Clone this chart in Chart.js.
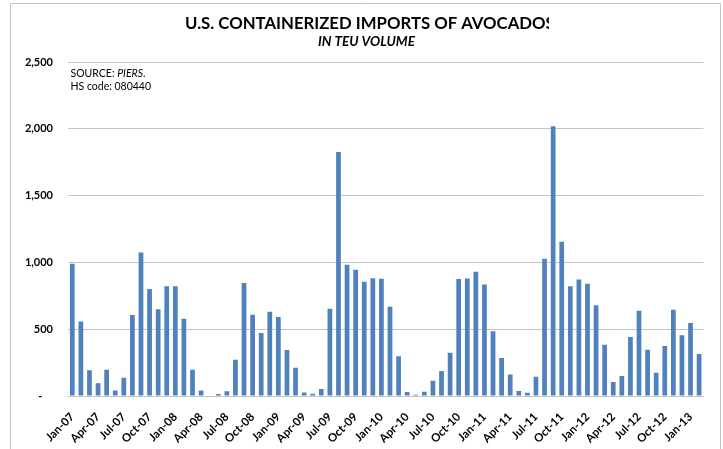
<!DOCTYPE html>
<html>
<head>
<meta charset="utf-8">
<script src="https://cdn.jsdelivr.net/npm/chart.js@4.4.1/dist/chart.umd.min.js"></script>
<style>
  html, body { margin: 0; padding: 0; background: #fff; }
</style>
</head>
<body>
<canvas id="avocado-chart" width="723" height="449"></canvas>
<script>
// Monthly categories, Jan-07 through Feb-13
const months = [
    'Jan-07', 'Feb-07', 'Mar-07', 'Apr-07', 'May-07', 'Jun-07', 'Jul-07', 'Aug-07', 'Sep-07', 'Oct-07', 'Nov-07', 'Dec-07',
    'Jan-08', 'Feb-08', 'Mar-08', 'Apr-08', 'May-08', 'Jun-08', 'Jul-08', 'Aug-08', 'Sep-08', 'Oct-08', 'Nov-08', 'Dec-08',
    'Jan-09', 'Feb-09', 'Mar-09', 'Apr-09', 'May-09', 'Jun-09', 'Jul-09', 'Aug-09', 'Sep-09', 'Oct-09', 'Nov-09', 'Dec-09',
    'Jan-10', 'Feb-10', 'Mar-10', 'Apr-10', 'May-10', 'Jun-10', 'Jul-10', 'Aug-10', 'Sep-10', 'Oct-10', 'Nov-10', 'Dec-10',
    'Jan-11', 'Feb-11', 'Mar-11', 'Apr-11', 'May-11', 'Jun-11', 'Jul-11', 'Aug-11', 'Sep-11', 'Oct-11', 'Nov-11', 'Dec-11',
    'Jan-12', 'Feb-12', 'Mar-12', 'Apr-12', 'May-12', 'Jun-12', 'Jul-12', 'Aug-12', 'Sep-12', 'Oct-12', 'Nov-12', 'Dec-12',
    'Jan-13', 'Feb-13'
];

// TEU volume per month
const teu2007 = [990, 558, 192, 95, 197, 42, 137, 606, 1074, 800, 650, 822];
const teu2008 = [822, 578, 197, 42, 0, 15, 35, 272, 845, 608, 471, 631];
const teu2009 = [591, 344, 212, 27, 17, 52, 653, 1827, 982, 945, 855, 882];
const teu2010 = [877, 668, 297, 30, 10, 32, 115, 187, 324, 875, 880, 930];
const teu2011 = [835, 484, 284, 160, 37, 25, 145, 1027, 2019, 1154, 822, 872];
const teu2012 = [840, 680, 384, 105, 150, 441, 638, 346, 174, 374, 646, 454];
const teu2013 = [546, 314];

// Axis labels
const xTickLabels = [
    'Jan-07', 'Apr-07', 'Jul-07', 'Oct-07', 'Jan-08', 'Apr-08', 'Jul-08', 'Oct-08',
    'Jan-09', 'Apr-09', 'Jul-09', 'Oct-09', 'Jan-10', 'Apr-10', 'Jul-10', 'Oct-10',
    'Jan-11', 'Apr-11', 'Jul-11', 'Oct-11', 'Jan-12', 'Apr-12', 'Jul-12', 'Oct-12', 'Jan-13'
];
const yTickValues = [0, 500, 1000, 1500, 2000, 2500];
const yTickLabels = ['-    ', '500', '1,000', '1,500', '2,000', '2,500'];

const titleText = 'U.S. CONTAINERIZED IMPORTS OF AVOCADOS';
const subtitleText = 'IN TEU VOLUME';

const teuVolume = [].concat(teu2007, teu2008, teu2009, teu2010, teu2011, teu2012, teu2013);

// Pick a font size so the text spans a given width
function fitFontSize(ctx, text, style, targetWidth) {
    ctx.font = style + ' 20px Lato';
    return 20 * targetWidth / ctx.measureText(text).width;
}

// Frame, title block and source note
const decorations = {
    id: 'decorations',
    beforeDraw(chart) {
        const ctx = chart.ctx;
        ctx.save();
        ctx.fillStyle = '#ffffff';
        ctx.fillRect(0, 0, chart.width, chart.height);
        ctx.strokeStyle = '#c4c4c4';
        ctx.lineWidth = 1;
        ctx.beginPath();
        ctx.moveTo(10.5, 449);
        ctx.lineTo(10.5, 3.5);
        ctx.lineTo(720.5, 3.5);
        ctx.lineTo(720.5, 449);
        ctx.stroke();
        ctx.restore();
    },
    afterDraw(chart) {
        const ctx = chart.ctx;
        const area = chart.chartArea;
        ctx.save();
        ctx.fillStyle = '#000000';
        ctx.textBaseline = 'alphabetic';
        ctx.textAlign = 'left';

        // Title is cut off on the right in the original
        const titleSize = fitFontSize(ctx, titleText, 'bold', 370);
        ctx.save();
        ctx.beginPath();
        ctx.rect(0, 0, 549, 40);
        ctx.clip();
        ctx.font = 'bold ' + titleSize + 'px Lato';
        ctx.fillText(titleText, 185, 28.5);
        ctx.restore();

        const subSize = fitFontSize(ctx, subtitleText, 'italic bold', 97);
        ctx.font = 'italic bold ' + subSize + 'px Lato';
        ctx.fillText(subtitleText, 318, 45.7);

        // Source note inside the plot area
        ctx.font = '10.5px Lato';
        const x0 = area.left + 2.5;
        ctx.fillText('SOURCE: ', x0, 77.3);
        let w = ctx.measureText('SOURCE: ').width;
        ctx.font = 'italic 10.5px Lato';
        ctx.fillText('PIERS', x0 + w, 77.3);
        w += ctx.measureText('PIERS').width;
        ctx.font = '10.5px Lato';
        ctx.fillText('.', x0 + w, 77.3);
        ctx.fillText('HS code: 080440', x0, 89.7);
        ctx.restore();
    }
};

function init() {
    const ctx = document.getElementById('avocado-chart').getContext('2d');
    window.avocadoChart = new Chart(ctx, {
        type: 'bar',
        data: {
            labels: months,
            datasets: [{
                label: 'TEU',
                data: teuVolume,
                backgroundColor: '#4f81bd',
                borderWidth: 0,
                categoryPercentage: 1.0,
                barPercentage: 0.55
            }]
        },
        options: {
            responsive: false,
            animation: false,
            devicePixelRatio: 1,
            layout: {
                padding: { top: 62, right: 19, left: 0, bottom: 0 }
            },
            plugins: {
                legend: { display: false },
                tooltip: { enabled: false },
                title: { display: false }
            },
            scales: {
                x: {
                    grid: { display: false, drawTicks: false },
                    border: { display: true, color: '#c4c4c4', width: 1 },
                    ticks: {
                        autoSkip: false,
                        maxRotation: 45,
                        minRotation: 45,
                        padding: 14,
                        color: '#000000',
                        font: { family: 'Lato', weight: 'bold', size: 11.5 },
                        callback: function(value, index) {
                            return xTickLabels.includes(months[index]) ? months[index] : '';
                        }
                    },
                    afterFit: function(scale) { scale.height = 53; }
                },
                y: {
                    min: 0,
                    max: 2500,
                    grid: { color: '#c4c4c4', lineWidth: 1, drawTicks: false },
                    border: { display: false },
                    afterBuildTicks: function(scale) {
                        scale.ticks = yTickValues.map(v => ({ value: v }));
                    },
                    ticks: {
                        padding: 15,
                        color: '#000000',
                        font: { family: 'Lato', weight: 'bold', size: 11 },
                        callback: function(value) {
                            return yTickLabels[yTickValues.indexOf(value)];
                        }
                    },
                    afterFit: function(scale) { scale.width = 68; }
                }
            }
        },
        plugins: [decorations]
    });
}

document.addEventListener('DOMContentLoaded', init);
</script>
</body>
</html>
